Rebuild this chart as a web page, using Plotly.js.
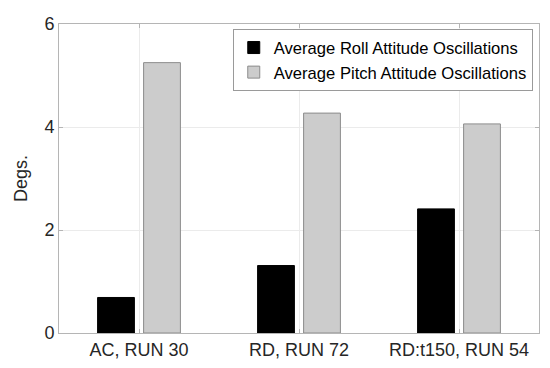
<!DOCTYPE html>
<html>
<head>
<meta charset="utf-8">
<script src="https://cdn.plot.ly/plotly-3.0.1.min.js"></script>
<style>html,body{margin:0;padding:0;background:#fff;}#chart{width:550px;height:368px;}</style>
</head>
<body>
<div id="chart"></div>
<script>
const categories = ["AC, RUN 30", "RD, RUN 72", "RD:t150, RUN 54"];
const rollValues = [0.69, 1.31, 2.41];
const pitchValues = [5.25, 4.27, 4.06];
const seriesNames = ["Average Roll Attitude Oscillations", "Average Pitch Attitude Oscillations"];
const yTicks = [0, 2, 4, 6];

const font = "Liberation Sans, Arial, Helvetica, sans-serif";
const traces = [
  {type: "bar", name: seriesNames[0], x: categories, y: rollValues,
   marker: {color: "#000000", line: {color: "#000000", width: 1}}},
  {type: "bar", name: seriesNames[1], x: categories, y: pitchValues,
   marker: {color: "#cccccc", line: {color: "#8c8c8c", width: 1}}}
];
const layout = {
  width: 550, height: 368,
  margin: {l: 59, r: 11, t: 24, b: 35, pad: 0},
  paper_bgcolor: "#ffffff", plot_bgcolor: "#ffffff",
  barmode: "group", bargap: 0.425, bargroupgap: 0.2,
  font: {family: font, color: "#262626", size: 18},
  showlegend: true,
  legend: {x: 0.987, xanchor: "right", y: 0.983, yanchor: "top",
    bordercolor: "#9a9a9a", borderwidth: 1, bgcolor: "#ffffff",
    font: {family: font, size: 16.6, color: "#000000"},
    tracegroupgap: 0, itemwidth: 20},
  xaxis: {type: "category", range: [-0.5, 2.5], showline: true, linecolor: "#b5b5b5", linewidth: 1,
    mirror: "ticks", ticks: "inside", ticklen: 4, tickcolor: "#b5b5b5",
    showgrid: true, gridcolor: "#ebebeb", zeroline: false,
    tickfont: {family: font, size: 18, color: "#262626"}},
  yaxis: {range: [0, 6], tickvals: yTicks, showline: true, linecolor: "#b5b5b5", linewidth: 1,
    mirror: "ticks", ticks: "inside", ticklen: 4, tickcolor: "#b5b5b5",
    showgrid: true, gridcolor: "#ebebeb", zeroline: false,
    tickfont: {family: font, size: 18, color: "#262626"},
    title: {text: "Degs.", font: {family: font, size: 18, color: "#262626"}, standoff: 12}}
};
Plotly.newPlot("chart", traces, layout, {staticPlot: true, displayModeBar: false});
</script>
</body>
</html>
